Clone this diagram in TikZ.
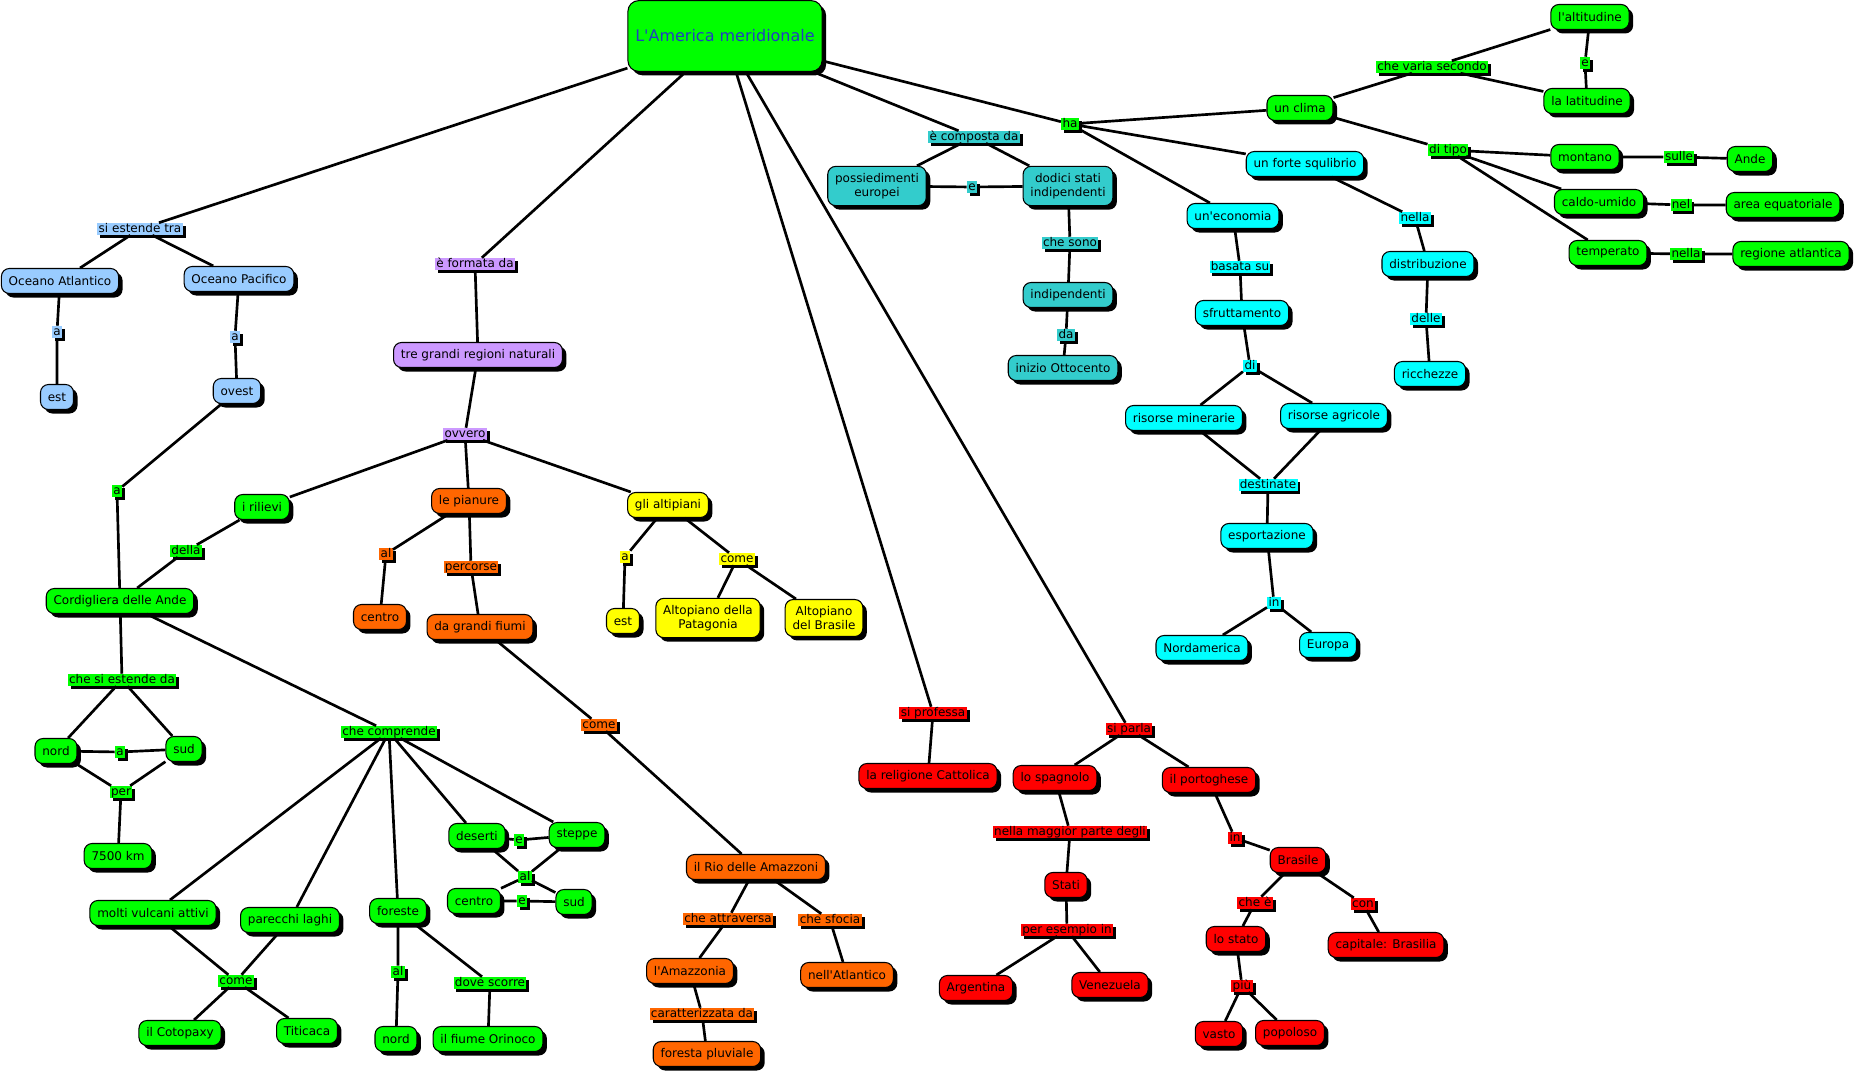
\documentclass[tikz,border=0pt]{standalone}
\usepackage{fontspec}
\newfontfamily\mapfont{DejaVu Sans}
\usetikzlibrary{shadows}

\definecolor{cblue}{RGB}{153,204,255}
\definecolor{cpurple}{RGB}{204,153,255}
\definecolor{cgreen}{RGB}{0,255,0}
\definecolor{corange}{RGB}{255,102,0}
\definecolor{cyellow}{RGB}{255,255,0}
\definecolor{cteal}{RGB}{51,204,204}
\definecolor{ccyan}{RGB}{0,255,255}
\definecolor{cred}{RGB}{255,0,0}
\definecolor{ctitle}{RGB}{32,64,192}

\tikzset{
  concept/.style={draw=black, line width=0.8pt, fill=#1, rounded corners=6pt, align=center,
    font=\mapfont\fontsize{9pt}{10.75pt}\selectfont, inner xsep=5.5pt, inner ysep=5pt,
    minimum height=18.75pt,
    drop shadow={shadow xshift=3pt, shadow yshift=-3pt, fill=black, opacity=1}},
  phrase/.style={fill=#1, inner xsep=1pt, inner ysep=0.3pt, text height=6.6pt, text depth=1.8pt,
    font=\mapfont\fontsize{9pt}{10.75pt}\selectfont,
    drop shadow={shadow xshift=2.2pt, shadow yshift=-2.2pt, fill=black, opacity=1}},
  link/.style={line width=2pt}
}

\begin{document}
\begin{tikzpicture}[x=0.75pt, y=-0.75pt]
    \useasboundingbox (0,0) rectangle (1854,1074);

    % main concept
    \node[concept=cgreen, minimum width=145pt, minimum height=53pt, rounded corners=8pt,
      font=\mapfont\fontsize{12pt}{14pt}\selectfont, text=ctitle] (am) at (725,36) {L'America meridionale};

    % oceani
    \node[phrase=cblue] (tra) at (140,229) {si estende tra};
    \node[concept=cblue] (atl) at (60,281) {Oceano Atlantico};
    \node[concept=cblue] (pac) at (239,279) {Oceano Pacifico};
    \node[phrase=cblue] (a1) at (57,332) {a};
    \node[phrase=cblue] (a2) at (235,337) {a};
    \node[concept=cblue] (est1) at (57,397) {est};
    \node[concept=cblue] (ovest) at (237,391) {ovest};

    % regioni naturali
    \node[phrase=cpurple] (formata) at (475,264) {è formata da};
    \node[concept=cpurple] (tre) at (478,355) {tre grandi regioni naturali};
    \node[phrase=cpurple] (ovvero) at (465,434) {ovvero};

    % rilievi
    \node[phrase=cgreen] (a3) at (117,491) {a};
    \node[concept=cgreen] (rilievi) at (262,507) {i rilievi};
    \node[phrase=cgreen] (della) at (186,551) {della};
    \node[concept=cgreen] (ande) at (120,601) {Cordigliera delle Ande};
    \node[phrase=cgreen] (estende) at (122,680) {che si estende da};
    \node[concept=cgreen] (nord1) at (56,751) {nord};
    \node[phrase=cgreen] (a4) at (120,752) {a};
    \node[concept=cgreen] (sud1) at (184,749) {sud};
    \node[phrase=cgreen] (per) at (121,792) {per};
    \node[concept=cgreen] (km) at (118,856) {7500 km};
    \node[phrase=cgreen] (comprende) at (389,732) {che comprende};
    \node[concept=cgreen] (vulcani) at (153,913) {molti vulcani attivi};
    \node[concept=cgreen] (laghi) at (290,920) {parecchi laghi};
    \node[concept=cgreen] (foreste) at (398,911) {foreste};
    \node[concept=cgreen] (deserti) at (477,836) {deserti};
    \node[phrase=cgreen] (e1) at (519,840) {e};
    \node[concept=cgreen] (steppe) at (577,835) {steppe};
    \node[phrase=cgreen] (al1) at (525,877) {al};
    \node[concept=cgreen] (centro2) at (474,901) {centro};
    \node[phrase=cgreen] (e2) at (522,901) {e};
    \node[concept=cgreen] (sud2) at (574,902) {sud};
    \node[phrase=cgreen] (come1) at (236,981) {come};
    \node[concept=cgreen] (cotopaxy) at (180,1033) {il Cotopaxy};
    \node[concept=cgreen] (titicaca) at (307,1031) {Titicaca};
    \node[phrase=cgreen] (al2) at (398,972) {al};
    \node[concept=cgreen] (nord2) at (396,1039) {nord};
    \node[phrase=cgreen] (scorre) at (490,983) {dove scorre};
    \node[concept=cgreen] (orinoco) at (488,1039) {il fiume Orinoco};

    % pianure
    \node[concept=corange] (pianure) at (469,501) {le pianure};
    \node[phrase=corange] (al3) at (386,554) {al};
    \node[concept=corange] (centro1) at (380,617) {centro};
    \node[phrase=corange] (percorse) at (471,567) {percorse};
    \node[concept=corange] (fiumi) at (480,627) {da grandi fiumi};
    \node[phrase=corange] (come2) at (599,725) {come};
    \node[concept=corange] (rio) at (756,867) {il Rio delle Amazzoni};
    \node[phrase=corange] (attraversa) at (728,919) {che attraversa};
    \node[phrase=corange] (sfocia) at (830,920) {che sfocia};
    \node[concept=corange] (amazzonia) at (690,971) {l'Amazzonia};
    \node[concept=corange] (atlantico) at (847,975) {nell'Atlantico};
    \node[phrase=corange] (caratt) at (702,1014) {caratterizzata da};
    \node[concept=corange] (foresta) at (707,1054) {foresta pluviale};

    % altipiani
    \node[concept=cyellow] (altipiani) at (668,505) {gli altipiani};
    \node[phrase=cyellow] (a5) at (625,557) {a};
    \node[phrase=cyellow] (come3) at (737,559) {come};
    \node[concept=cyellow] (est2) at (623,621) {est};
    \node[concept=cyellow] (patagonia) at (708,618) {Altopiano della\\Patagonia};
    \node[concept=cyellow] (brasile1) at (824,618) {Altopiano\\del Brasile};

    % stati
    \node[phrase=cteal] (composta) at (974,137) {è composta da};
    \node[concept=cteal] (possed) at (877,186) {possiedimenti\\europei};
    \node[phrase=cteal] (e3) at (972,187) {e};
    \node[concept=cteal] (dodici) at (1068,186) {dodici stati\\indipendenti};
    \node[phrase=cteal] (sono) at (1070,243) {che sono};
    \node[concept=cteal] (indip) at (1068,295) {indipendenti};
    \node[phrase=cteal] (da) at (1066,335) {da};
    \node[concept=cteal] (ottocento) at (1063,368) {inizio Ottocento};

    % clima
    \node[phrase=cgreen] (ha) at (1070,124) {ha};
    \node[concept=cgreen] (clima) at (1300,108) {un clima};
    \node[phrase=cgreen] (varia) at (1432,67) {che varia secondo};
    \node[concept=cgreen] (altitudine) at (1590,17) {l'altitudine};
    \node[phrase=cgreen] (e4) at (1585,63) {e};
    \node[concept=cgreen] (latitudine) at (1587,101) {la latitudine};
    \node[phrase=cgreen] (tipo) at (1448,150) {di tipo};
    \node[concept=cgreen] (montano) at (1585,157) {montano};
    \node[phrase=cgreen] (sulle) at (1679,157) {sulle};
    \node[concept=cgreen] (ande2) at (1750,159) {Ande};
    \node[concept=cgreen] (caldo) at (1599,202) {caldo-umido};
    \node[phrase=cgreen] (nel) at (1681,205) {nel};
    \node[concept=cgreen] (equat) at (1783,205) {area equatoriale};
    \node[concept=cgreen] (temperato) at (1608,253) {temperato};
    \node[phrase=cgreen] (nella2) at (1686,254) {nella};
    \node[concept=cgreen] (atlantica) at (1791,254) {regione atlantica};

    % economia
    \node[concept=ccyan] (squilibrio) at (1305,164) {un forte squlibrio};
    \node[phrase=ccyan] (nella1) at (1415,218) {nella};
    \node[concept=ccyan] (distrib) at (1428,264) {distribuzione};
    \node[phrase=ccyan] (delle) at (1426,319) {delle};
    \node[concept=ccyan] (ricchezze) at (1430,374) {ricchezze};
    \node[concept=ccyan] (economia) at (1233,216) {un'economia};
    \node[phrase=ccyan] (basata) at (1240,267) {basata su};
    \node[concept=ccyan] (sfrutt) at (1242,313) {sfruttamento};
    \node[phrase=ccyan] (di) at (1250,366) {di};
    \node[concept=ccyan] (minerarie) at (1184,418) {risorse minerarie};
    \node[concept=ccyan] (agricole) at (1334,416) {risorse agricole};
    \node[phrase=ccyan] (destinate) at (1268,485) {destinate};
    \node[concept=ccyan] (esport) at (1267,536) {esportazione};
    \node[phrase=ccyan] (in1) at (1274,603) {in};
    \node[concept=ccyan] (nordam) at (1202,648) {Nordamerica};
    \node[concept=ccyan] (europa) at (1328,645) {Europa};

    % religione e lingue
    \node[phrase=cred] (professa) at (933,713) {si professa};
    \node[concept=cred] (religione) at (928,776) {la religione Cattolica};
    \node[phrase=cred] (parla) at (1129,729) {si parla};
    \node[concept=cred] (spagnolo) at (1055,778) {lo spagnolo};
    \node[concept=cred] (portoghese) at (1209,780) {il portoghese};
    \node[phrase=cred] (maggior) at (1070,832) {nella maggior parte degli};
    \node[concept=cred] (stati) at (1066,885) {Stati};
    \node[phrase=cred] (esempio) at (1067,930) {per esempio in};
    \node[concept=cred] (argentina) at (976,988) {Argentina};
    \node[concept=cred] (venezuela) at (1110,985) {Venezuela};
    \node[phrase=cred] (in2) at (1235,838) {in};
    \node[concept=cred] (brasile2) at (1298,860) {Brasile};
    \node[phrase=cred] (che) at (1255,903) {che è};
    \node[phrase=cred] (con) at (1363,904) {con};
    \node[concept=cred] (lostato) at (1236,939) {lo stato};
    \node[concept=cred] (capitale) at (1386,945) {capitale: Brasilia};
    \node[phrase=cred] (piu) at (1242,986) {più};
    \node[concept=cred] (vasto) at (1219,1034) {vasto};
    \node[concept=cred] (popoloso) at (1290,1033) {popoloso};

    % connectors
    \draw[link] (am) -- (tra) (tra) -- (atl) (tra) -- (pac) (atl) -- (a1) (a1) -- (est1)
      (pac) -- (a2) (a2) -- (ovest) (ovest) -- (a3) (a3) -- (ande);
    \draw[link] (am) -- (formata) (formata) -- (tre) (tre) -- (ovvero)
      (ovvero) -- (rilievi) (ovvero) -- (pianure) (ovvero) -- (altipiani);
    \draw[link] (rilievi) -- (della) (della) -- (ande) (ande) -- (estende)
      (estende) -- (nord1) (estende) -- (sud1) (nord1) -- (a4) (a4) -- (sud1)
      (nord1) -- (per) (sud1) -- (per) (per) -- (km);
    \draw[link] (ande) -- (comprende) (comprende) -- (vulcani) (comprende) -- (laghi)
      (comprende) -- (foreste) (comprende) -- (deserti) (comprende) -- (steppe);
    \draw[link] (deserti) -- (e1) (e1) -- (steppe) (deserti) -- (al1) (steppe) -- (al1)
      (al1) -- (centro2) (al1) -- (sud2) (centro2) -- (e2) (e2) -- (sud2);
    \draw[link] (vulcani) -- (come1) (laghi) -- (come1) (come1) -- (cotopaxy) (come1) -- (titicaca)
      (foreste) -- (al2) (al2) -- (nord2) (foreste) -- (scorre) (scorre) -- (orinoco);
    \draw[link] (pianure) -- (al3) (al3) -- (centro1) (pianure) -- (percorse) (percorse) -- (fiumi)
      (fiumi) -- (come2) (come2) -- (rio) (rio) -- (attraversa) (attraversa) -- (amazzonia)
      (amazzonia) -- (caratt) (caratt) -- (foresta) (rio) -- (sfocia) (sfocia) -- (atlantico);
    \draw[link] (altipiani) -- (a5) (a5) -- (est2) (altipiani) -- (come3)
      (come3) -- (patagonia) (come3) -- (brasile1);
    \draw[link] (am) -- (composta) (composta) -- (possed) (composta) -- (dodici)
      (possed) -- (e3) (e3) -- (dodici) (dodici) -- (sono) (sono) -- (indip)
      (indip) -- (da) (da) -- (ottocento);
    \draw[link] (am) -- (ha) (ha) -- (clima) (ha) -- (squilibrio) (ha) -- (economia);
    \draw[link] (clima) -- (varia) (varia) -- (altitudine) (varia) -- (latitudine)
      (altitudine) -- (e4) (e4) -- (latitudine) (clima) -- (tipo)
      (tipo) -- (montano) (tipo) -- (caldo) (tipo) -- (temperato)
      (montano) -- (sulle) (sulle) -- (ande2) (caldo) -- (nel) (nel) -- (equat)
      (temperato) -- (nella2) (nella2) -- (atlantica);
    \draw[link] (economia) -- (basata) (basata) -- (sfrutt) (sfrutt) -- (di)
      (di) -- (minerarie) (di) -- (agricole) (minerarie) -- (destinate) (agricole) -- (destinate)
      (destinate) -- (esport) (esport) -- (in1) (in1) -- (nordam) (in1) -- (europa);
    \draw[link] (squilibrio) -- (nella1) (nella1) -- (distrib) (distrib) -- (delle) (delle) -- (ricchezze);
    \draw[link] (am) -- (professa) (professa) -- (religione) (am) -- (parla)
      (parla) -- (spagnolo) (parla) -- (portoghese) (spagnolo) -- (maggior) (maggior) -- (stati)
      (stati) -- (esempio) (esempio) -- (argentina) (esempio) -- (venezuela)
      (portoghese) -- (in2) (in2) -- (brasile2) (brasile2) -- (che) (che) -- (lostato)
      (brasile2) -- (con) (con) -- (capitale) (lostato) -- (piu) (piu) -- (vasto) (piu) -- (popoloso);
\end{tikzpicture}
\end{document}
